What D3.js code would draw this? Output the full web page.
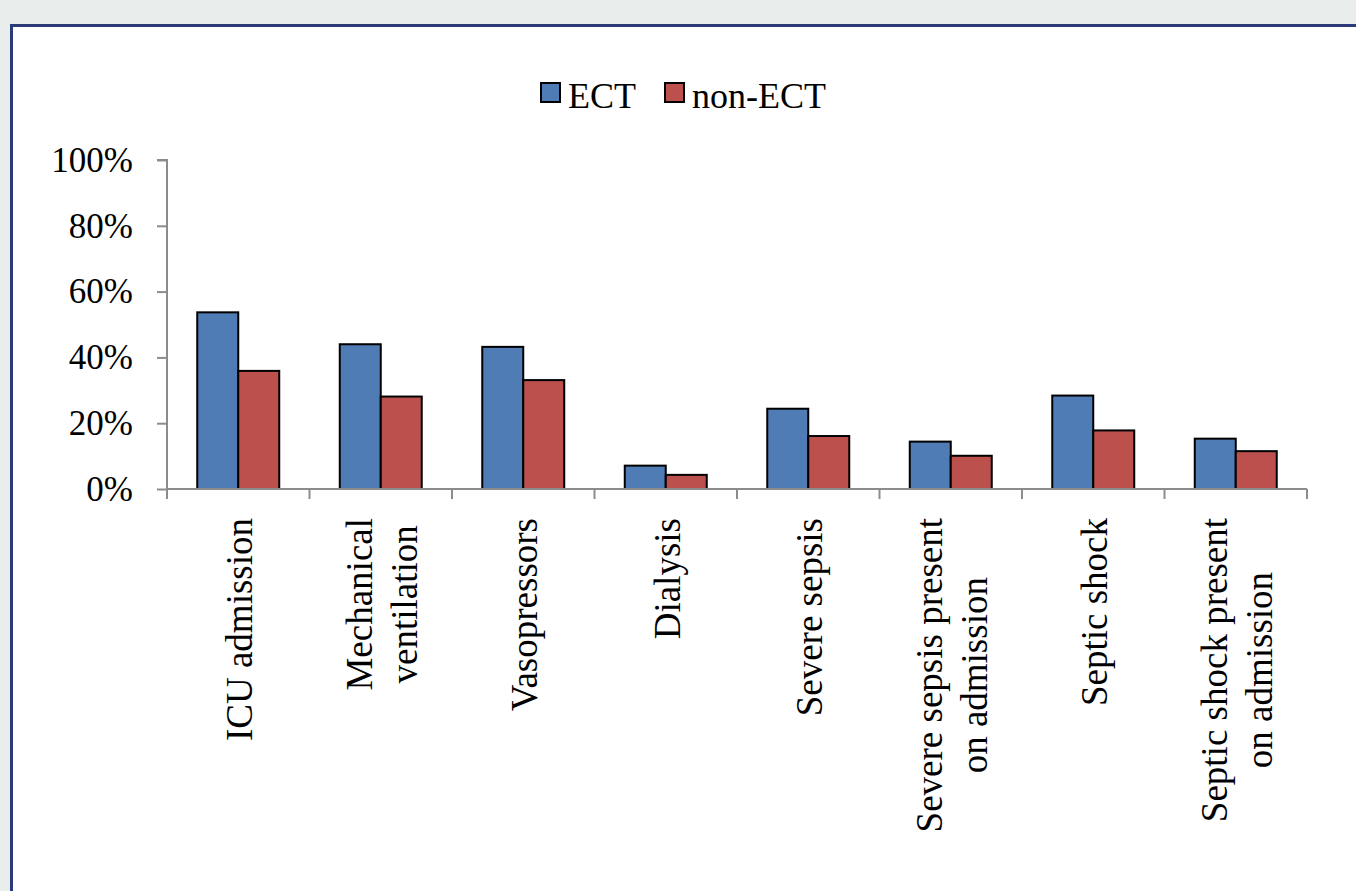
<!DOCTYPE html>
<html>
<head>
<meta charset="utf-8">
<script src="https://cdn.jsdelivr.net/npm/d3@7"></script>
<style>
  html, body { margin: 0; padding: 0; background: #e9eeed; }
  svg { display: block; }
  text { font-family: "Liberation Serif", "Times New Roman", serif; fill: #000; }
</style>
</head>
<body>
<svg id="chart" width="1356" height="891"></svg>
<script>
const categories = [
  ["ICU admission"],
  ["Mechanical", "ventilation"],
  ["Vasopressors"],
  ["Dialysis"],
  ["Severe sepsis"],
  ["Severe sepsis present", "on admission"],
  ["Septic shock"],
  ["Septic shock present", "on admission"]
];
const seriesNames = ["ECT", "non-ECT"];
const ectValues    = [0.537, 0.440, 0.432, 0.071, 0.244, 0.144, 0.284, 0.153];
const nonEctValues = [0.359, 0.281, 0.331, 0.043, 0.161, 0.101, 0.178, 0.115];
const yTicks = [0, 0.2, 0.4, 0.6, 0.8, 1.0];
const colors = ["#4f7cb5", "#bb504d"];

const svg = d3.select("#chart");

// panel
svg.append("rect").attr("x", 0).attr("y", 0).attr("width", 1356).attr("height", 891).attr("fill", "#e9eeed");
svg.append("rect").attr("x", 13).attr("y", 27).attr("width", 1356).attr("height", 900).attr("fill", "#ffffff");
svg.append("rect").attr("x", 11.5).attr("y", 25.5).attr("width", 1400).attr("height", 900)
  .attr("fill", "none").attr("stroke", "#2b3a78").attr("stroke-width", 3);

const catKeys = categories.map(c => c.join(" "));
const x0 = d3.scaleBand().domain(catKeys).range([167, 1307]).paddingInner(0).paddingOuter(0);
const x1 = d3.scaleBand().domain(seriesNames).range([0, x0.bandwidth()]).paddingInner(0).paddingOuter(0.738);
const y = d3.scaleLinear().domain([0, 1]).range([489, 160]);

// y axis
const yAxis = d3.axisLeft(y).tickValues(yTicks).tickFormat(d3.format(".0%")).tickSize(10).tickPadding(24);
const gy = svg.append("g").attr("transform", "translate(167,0)").call(yAxis);
gy.select(".domain").attr("stroke", "#8c8c8c").attr("stroke-width", 2).attr("d", `M-10,${y(1)}H0V${y(0)}`);
gy.selectAll(".tick line").attr("stroke", "#8c8c8c").attr("stroke-width", 2);
gy.selectAll(".tick text").attr("font-size", 35).attr("font-family", "Liberation Serif").attr("fill", "#000");

// bars
const data = catKeys.map((k, i) => ({ key: k, vals: [ectValues[i], nonEctValues[i]] }));
const groups = svg.append("g").selectAll("g").data(data).join("g")
  .attr("transform", d => `translate(${x0(d.key)},0)`);
groups.selectAll("rect").data(d => d.vals.map((v, j) => ({ s: seriesNames[j], v, j })))
  .join("rect")
  .attr("x", d => x1(d.s))
  .attr("width", x1.bandwidth())
  .attr("y", d => y(d.v))
  .attr("height", d => y(0) - y(d.v))
  .attr("fill", d => colors[d.j])
  .attr("stroke", "#000").attr("stroke-width", 2);

// x axis
const gx = svg.append("g");
gx.append("line").attr("x1", 167).attr("x2", 1307).attr("y1", y(0)).attr("y2", y(0))
  .attr("stroke", "#8c8c8c").attr("stroke-width", 2);
const edges = catKeys.map(k => x0(k)).concat([x0(catKeys[catKeys.length - 1]) + x0.bandwidth()]);
gx.selectAll("line.tk").data(edges).join("line").attr("class", "tk")
  .attr("x1", d => d).attr("x2", d => d).attr("y1", y(0)).attr("y2", y(0) + 10)
  .attr("stroke", "#8c8c8c").attr("stroke-width", 2);

// category labels (rotated)
const fs = 37, lh = 45, topY = 518;
categories.forEach((lines, i) => {
  const cx = x0(catKeys[i]) + x0.bandwidth() / 2;
  const g = svg.append("g");
  const texts = lines.map((ln, li) => g.append("text").attr("font-size", fs).attr("text-anchor", "middle").text(ln));
  const maxLen = d3.max(texts, t => t.node().getComputedTextLength());
  const cy = topY + maxLen / 2;
  const n = lines.length;
  texts.forEach((t, li) => {
    const bx = cx + 14 + (li - (n - 1) / 2) * lh;
    t.attr("transform", `translate(${bx},${cy}) rotate(-90)`);
  });
});

// legend
const legend = svg.append("g");
const legItems = [
  { name: seriesNames[0], sx: 541, tx: 568 },
  { name: seriesNames[1], sx: 665, tx: 692 }
];
legItems.forEach((it, i) => {
  legend.append("rect").attr("x", it.sx).attr("y", 83).attr("width", 19).attr("height", 19)
    .attr("fill", colors[i]).attr("stroke", "#000").attr("stroke-width", 2);
  legend.append("text").attr("x", it.tx).attr("y", 108).attr("font-size", 36).text(it.name);
});
</script>
</body>
</html>
